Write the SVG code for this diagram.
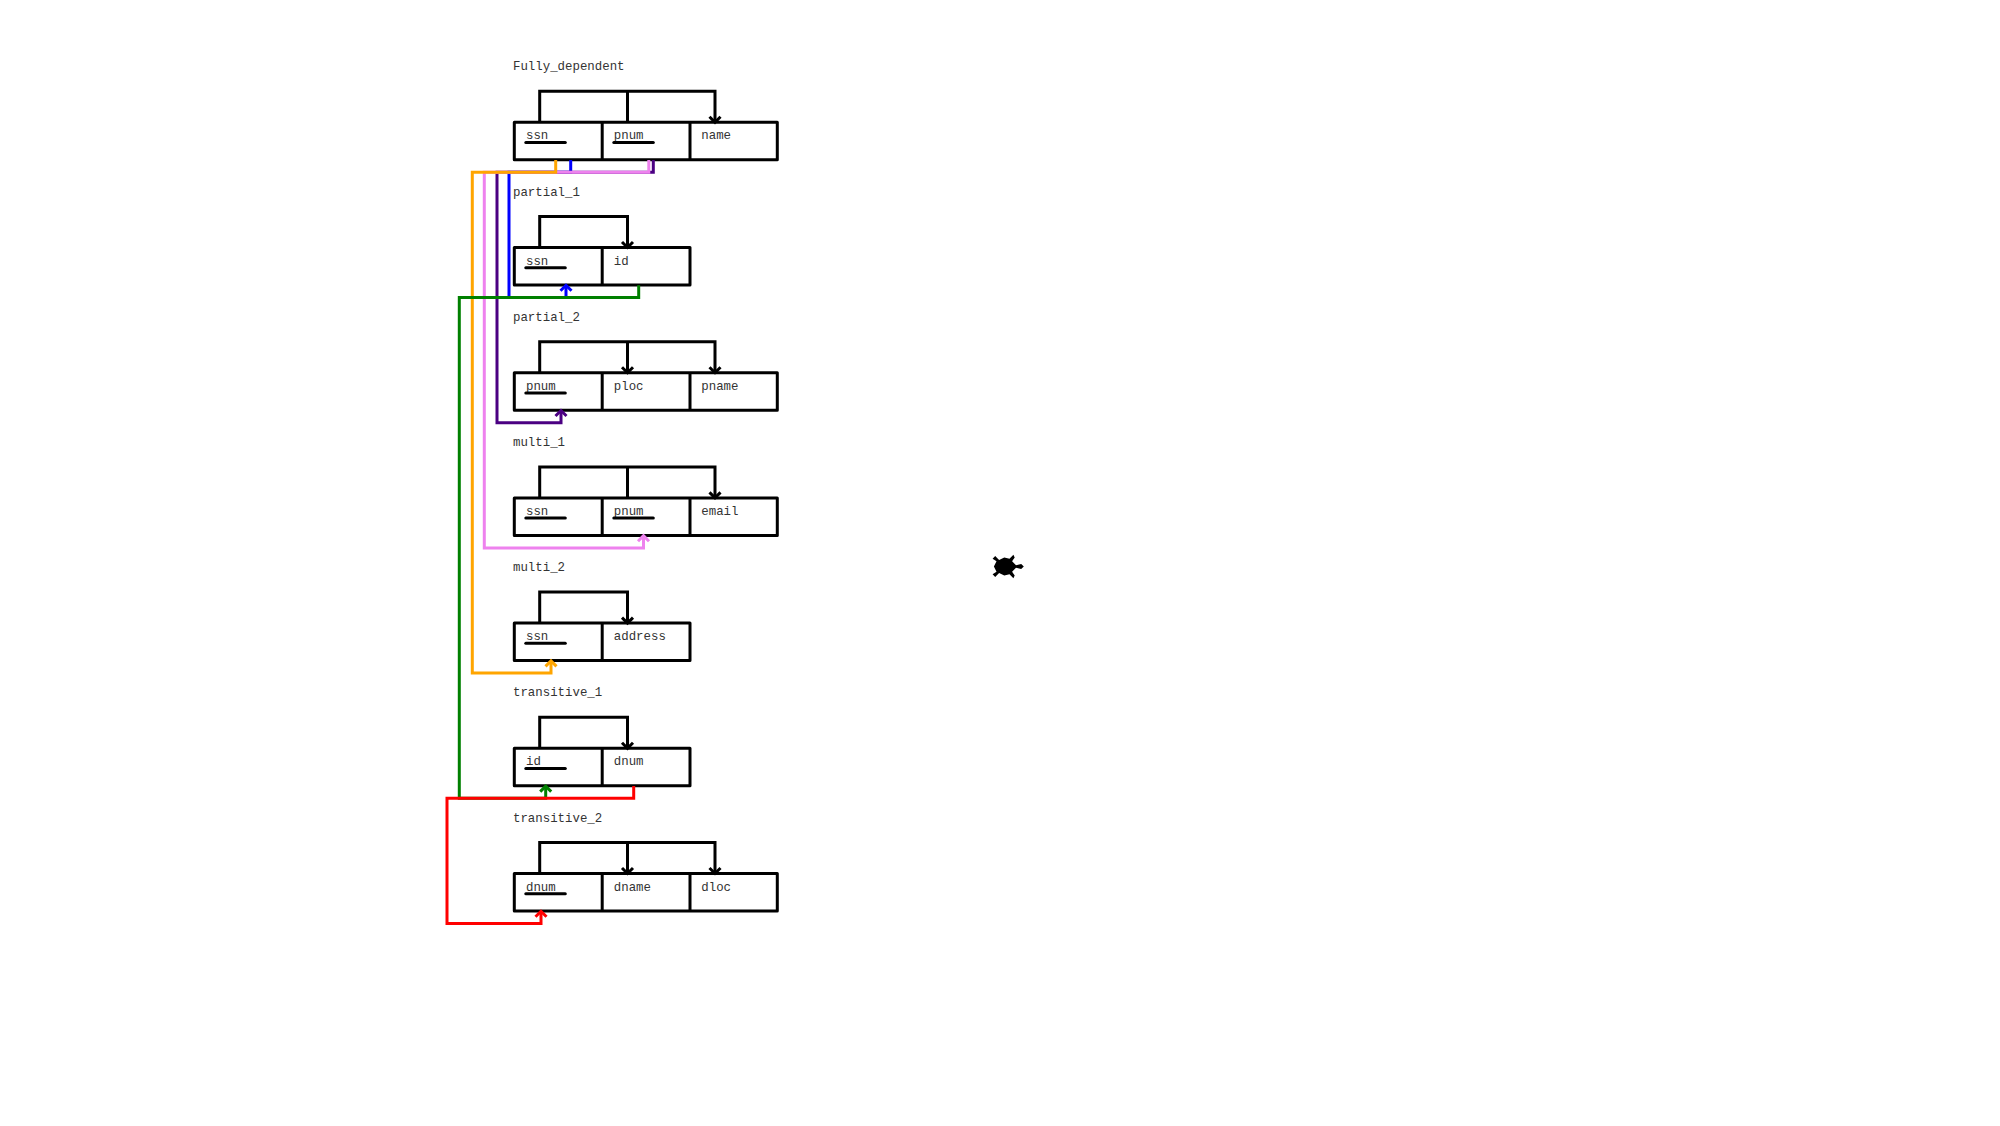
<svg xmlns="http://www.w3.org/2000/svg" width="2000" height="1126" viewBox="0 0 2000 1126">
<style>
text{font-family:"Liberation Mono","Courier New",monospace;font-size:12.4px;fill:#333}
.box{fill:none;stroke:#000;stroke-width:3;stroke-linejoin:round}
.ul{stroke:#000;stroke-width:3;stroke-linecap:round}
.c{fill:none;stroke-width:3;stroke-linejoin:miter}
.k{stroke:#000}
</style>
<defs>
<marker id="ab" markerUnits="userSpaceOnUse" markerWidth="16" markerHeight="16" refX="0" refY="0" viewBox="-8 -8 16 16" orient="auto" overflow="visible"><path d="M-5.5,-5.5 L0,0 L-5.5,5.5" fill="none" stroke="#0000ff" stroke-width="3"/></marker>
<marker id="ai" markerUnits="userSpaceOnUse" markerWidth="16" markerHeight="16" refX="0" refY="0" viewBox="-8 -8 16 16" orient="auto" overflow="visible"><path d="M-5.5,-5.5 L0,0 L-5.5,5.5" fill="none" stroke="#4b0082" stroke-width="3"/></marker>
<marker id="ap" markerUnits="userSpaceOnUse" markerWidth="16" markerHeight="16" refX="0" refY="0" viewBox="-8 -8 16 16" orient="auto" overflow="visible"><path d="M-5.5,-5.5 L0,0 L-5.5,5.5" fill="none" stroke="#ee82ee" stroke-width="3"/></marker>
<marker id="ao" markerUnits="userSpaceOnUse" markerWidth="16" markerHeight="16" refX="0" refY="0" viewBox="-8 -8 16 16" orient="auto" overflow="visible"><path d="M-5.5,-5.5 L0,0 L-5.5,5.5" fill="none" stroke="#ffa500" stroke-width="3"/></marker>
<marker id="ag" markerUnits="userSpaceOnUse" markerWidth="16" markerHeight="16" refX="0" refY="0" viewBox="-8 -8 16 16" orient="auto" overflow="visible"><path d="M-5.5,-5.5 L0,0 L-5.5,5.5" fill="none" stroke="#008000" stroke-width="3"/></marker>
<marker id="ar" markerUnits="userSpaceOnUse" markerWidth="16" markerHeight="16" refX="0" refY="0" viewBox="-8 -8 16 16" orient="auto" overflow="visible"><path d="M-5.5,-5.5 L0,0 L-5.5,5.5" fill="none" stroke="#ff0000" stroke-width="3"/></marker>
</defs>
<g id="fully_dependent">
<text x="513" y="70.400">Fully_dependent</text>
<rect class="box" x="514.300" y="122.300" width="263" height="37.5"/><path class="box" d="M602.200 122.300V159.800M690 122.300V159.800"/>
<text x="526" y="139.400">ssn</text><path class="ul" d="M525.800 142.500H565.300"/>
<text x="613.800" y="139.400">pnum</text><path class="ul" d="M613.800 142.500H653.300"/>
<text x="701.300" y="139.400">name</text>
</g>
<g id="partial_1">
<text x="513" y="195.600">partial_1</text>
<rect class="box" x="514.300" y="247.500" width="175.700" height="37.5"/><path class="box" d="M602.200 247.500V285"/>
<text x="526" y="264.600">ssn</text><path class="ul" d="M525.800 267.700H565.300"/>
<text x="613.800" y="264.600">id</text>
</g>
<g id="partial_2">
<text x="513" y="320.800">partial_2</text>
<rect class="box" x="514.300" y="372.700" width="263" height="37.5"/><path class="box" d="M602.200 372.700V410.200M690 372.700V410.200"/>
<text x="526" y="389.800">pnum</text><path class="ul" d="M525.800 392.900H565.300"/>
<text x="613.800" y="389.800">ploc</text>
<text x="701.300" y="389.800">pname</text>
</g>
<g id="multi_1">
<text x="513" y="446">multi_1</text>
<rect class="box" x="514.300" y="497.900" width="263" height="37.5"/><path class="box" d="M602.200 497.900V535.400M690 497.900V535.400"/>
<text x="526" y="515">ssn</text><path class="ul" d="M525.800 518.100H565.300"/>
<text x="613.800" y="515">pnum</text><path class="ul" d="M613.800 518.100H653.300"/>
<text x="701.300" y="515">email</text>
</g>
<g id="multi_2">
<text x="513" y="571.200">multi_2</text>
<rect class="box" x="514.300" y="623.100" width="175.700" height="37.5"/><path class="box" d="M602.200 623.100V660.600"/>
<text x="526" y="640.200">ssn</text><path class="ul" d="M525.800 643.300H565.300"/>
<text x="613.800" y="640.200">address</text>
</g>
<g id="transitive_1">
<text x="513" y="696.400">transitive_1</text>
<rect class="box" x="514.300" y="748.300" width="175.700" height="37.5"/><path class="box" d="M602.200 748.300V785.800"/>
<text x="526" y="765.400">id</text><path class="ul" d="M525.800 768.500H565.300"/>
<text x="613.800" y="765.400">dnum</text>
</g>
<g id="transitive_2">
<text x="513" y="821.600">transitive_2</text>
<rect class="box" x="514.300" y="873.500" width="263" height="37.5"/><path class="box" d="M602.200 873.500V911M690 873.500V911"/>
<text x="526" y="890.600">dnum</text><path class="ul" d="M525.800 893.700H565.300"/>
<text x="613.800" y="890.600">dname</text>
<text x="701.300" y="890.600">dloc</text>
</g>
<g id="connectors">
<path class="c k" d="M539.700 122.300V91.300H715V122.300M627.500 91.300V122.300"/>
<path class="c k" d="M539.700 247.500V216.500H627.500V247.500"/>
<path class="c k" d="M539.700 372.700V341.700H715V372.700M627.500 341.700V372.700"/>
<path class="c k" d="M539.700 497.900V466.900H715V497.900M627.500 466.900V497.900"/>
<path class="c k" d="M539.700 623.100V592.100H627.500V623.100"/>
<path class="c k" d="M539.700 748.300V717.300H627.500V748.300"/>
<path class="c k" d="M539.700 873.500V842.500H715V873.500M627.500 842.500V873.500"/>
<path class="c k" d="M709.500 116.800L715 122.300L720.500 116.800M622 242L627.500 247.500L633 242M622 367.200L627.500 372.700L633 367.200M709.500 367.200L715 372.700L720.500 367.200M709.500 492.400L715 497.900L720.500 492.400M622 617.600L627.500 623.100L633 617.600M622 742.800L627.500 748.300L633 742.800M622 868L627.500 873.500L633 868M709.500 868L715 873.500L720.500 868"/>
<path class="c" stroke="#0000ff" d="M570.700 160V172.300H509V297.500H566V285.300" marker-end="url(#ab)"/>
<path class="c" stroke="#4b0082" d="M653.300 160V172.300H497V422.700H561V410.500" marker-end="url(#ai)"/>
<path class="c" stroke="#ee82ee" d="M648.800 160V172.300H484.300V547.900H643.500V535.700" marker-end="url(#ap)"/>
<path class="c" stroke="#ffa500" d="M555.700 160V172.300H472.300V673.100H551V660.900" marker-end="url(#ao)"/>
<path class="c" stroke="#008000" d="M638.700 285.300V297.500H459.300V798.300H545.700V786.100" marker-end="url(#ag)"/>
<path class="c" stroke="#ff0000" d="M633.700 786.100V798.300H447V923.500H541V911.300" marker-end="url(#ar)"/>
</g>
<polygon id="turtle" transform="translate(1003 566.500) scale(1.3)" fill="#000" points="16,0 14,-2 10,-1 7,-4 9,-7 8,-9 5,-6 1,-7 -3,-5 -6,-8 -8,-6 -5,-4 -7,0 -5,4 -8,6 -6,8 -3,5 1,7 5,6 8,9 9,7 7,4 10,1 14,2"/>
</svg>
